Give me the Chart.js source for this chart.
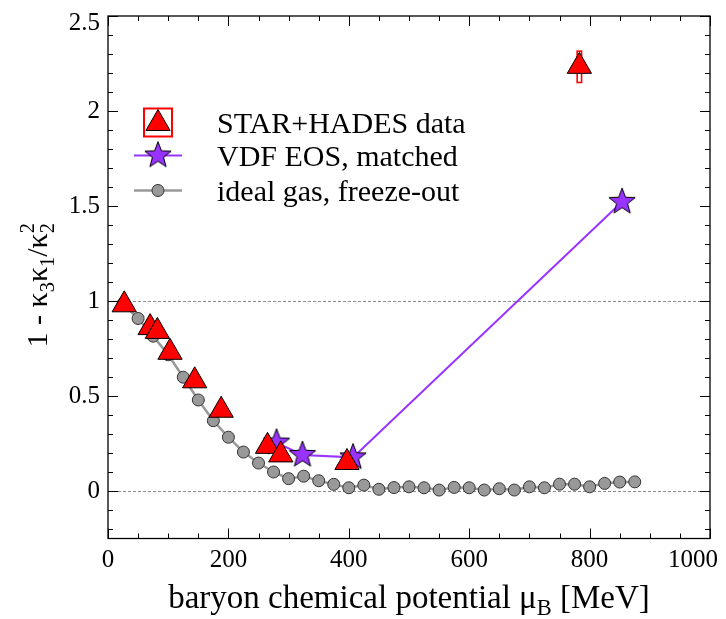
<!DOCTYPE html>
<html>
<head>
<meta charset="utf-8">
<script src="https://cdn.jsdelivr.net/npm/chart.js@4.4.1/dist/chart.umd.min.js"></script>
<style>
  html, body { margin: 0; padding: 0; background: #fff; }
</style>
</head>
<body>
<canvas id="c" width="726" height="619"></canvas>
<script>
// measured fluctuation ratio vs. baryon chemical potential
const dataMuB   = [27, 70, 82, 103, 144, 188, 265, 287, 397, 783];
const dataRatio = [0.98, 0.86, 0.84, 0.73, 0.58, 0.425, 0.235, 0.19, 0.15, 2.235];
const dataSysLo = [null, null, null, null, null, null, null, null, null, 2.15];
const dataSysHi = [null, null, null, null, null, null, null, null, null, 2.315];

// VDF equation of state, matched points
const vdfMuB   = [280, 323, 407, 854];
const vdfRatio = [0.255, 0.19, 0.177, 1.522];

// ideal gas along the freeze-out curve
const idealMuB = [25, 50, 75, 100, 125, 150, 175, 200, 225, 250, 275, 300, 325, 350, 375, 400,
  425, 450, 475, 500, 525, 550, 575, 600, 625, 650, 675, 700, 725, 750, 775, 800, 825, 850, 875];
const idealRatio = [0.985, 0.908, 0.815, 0.717, 0.599, 0.479, 0.370, 0.283, 0.205, 0.147, 0.100, 0.065,
  0.078, 0.054, 0.035, 0.017, 0.031, 0.009, 0.018, 0.022, 0.017, 0.005, 0.019, 0.017, 0.005, 0.012,
  0.005, 0.022, 0.017, 0.036, 0.036, 0.022, 0.040, 0.047, 0.048];

const xTicks = [0, 200, 400, 600, 800, 1000];
const yTicks = [0, 0.5, 1, 1.5, 2, 2.5];
const refLines = [0, 1];

const labels = ['STAR+HADES data', 'VDF EOS, matched', 'ideal gas, freeze-out'];

const SERIF = '"Liberation Serif", "Times New Roman", serif';
const RED = '#ff0000';
const PURPLE = '#9933ff';
const GREY = '#999999';

function makeStar(R, fill) {
  const size = Math.ceil(2 * R + 4);
  const cv = document.createElement('canvas');
  cv.width = size; cv.height = size;
  const g = cv.getContext('2d');
  const cx = size / 2, cy = size / 2;
  g.beginPath();
  for (let i = 0; i < 10; i++) {
    const r = i % 2 ? R * 0.42 : R;
    const a = -Math.PI / 2 + i * Math.PI / 5;
    g.lineTo(cx + r * Math.cos(a), cy + r * Math.sin(a));
  }
  g.closePath();
  g.fillStyle = fill;
  g.fill();
  g.lineWidth = 1;
  g.strokeStyle = '#000';
  g.stroke();
  return cv;
}
const starImg = makeStar(13.8, PURPLE);

const pts = (xs, ys) => xs.map((x, i) => ({ x: x, y: ys[i] }));

// rich text: plain runs plus sub/superscripts
function richParts(ctx, parts, size) {
  let w = 0;
  parts.forEach(p => {
    if (p.t) { ctx.font = size + 'px ' + SERIF; p.w = ctx.measureText(p.t).width; }
    else {
      ctx.font = (size * 0.68) + 'px ' + SERIF;
      p.w = Math.max(p.sub ? ctx.measureText(p.sub).width : 0, p.sup ? ctx.measureText(p.sup).width : 0);
    }
    w += p.w;
  });
  return w;
}
function drawRich(ctx, parts, cx, y, size) {
  let x = cx - richParts(ctx, parts, size) / 2;
  ctx.textAlign = 'left';
  ctx.textBaseline = 'alphabetic';
  parts.forEach(p => {
    if (p.t) {
      ctx.font = size + 'px ' + SERIF;
      ctx.fillText(p.t, x, y);
    } else {
      ctx.font = (size * 0.68) + 'px ' + SERIF;
      if (p.sub) ctx.fillText(p.sub, x, y + size * 0.22);
      if (p.sup) ctx.fillText(p.sup, x, y - size * 0.42);
    }
    x += p.w;
  });
}

const decorations = {
  id: 'decorations',
  beforeDatasetsDraw(chart) {
    const { ctx, chartArea: a, scales: { x, y } } = chart;
    ctx.save();
    // dashed reference lines
    ctx.strokeStyle = '#8c8c8c';
    ctx.lineWidth = 1;
    ctx.setLineDash([3, 2]);
    refLines.forEach(v => {
      const py = Math.round(y.getPixelForValue(v)) + 0.5;
      ctx.beginPath(); ctx.moveTo(a.left, py); ctx.lineTo(a.right, py); ctx.stroke();
    });
    ctx.setLineDash([]);
    // systematic error boxes
    ctx.strokeStyle = RED;
    ctx.lineWidth = 1.6;
    ctx.fillStyle = '#fff';
    dataMuB.forEach((m, i) => {
      if (dataSysLo[i] == null) return;
      const px = x.getPixelForValue(m);
      const top = y.getPixelForValue(dataSysHi[i]);
      const bot = y.getPixelForValue(dataSysLo[i]);
      ctx.fillRect(px - 2.2, top, 4.4, bot - top);
      ctx.strokeRect(px - 2.2, top, 4.4, bot - top);
    });
    ctx.restore();
  },
  afterDraw(chart) {
    const { ctx, chartArea: a, scales: { x, y }, width: W } = chart;
    ctx.save();
    // frame
    ctx.strokeStyle = '#000';
    ctx.lineWidth = 1.3;
    ctx.strokeRect(a.left, a.top, a.right - a.left, a.bottom - a.top);
    // inward ticks on all four sides
    ctx.lineWidth = 1;
    for (let v = 0; v <= 1000; v += 50) {
      const px = Math.round(x.getPixelForValue(v)) + 0.5;
      const len = v % 200 === 0 ? 10 : 5;
      ctx.beginPath();
      ctx.moveTo(px, a.bottom); ctx.lineTo(px, a.bottom - len);
      ctx.moveTo(px, a.top); ctx.lineTo(px, a.top + len);
      ctx.stroke();
    }
    for (let k = -2; k <= 25; k++) {
      const py = Math.round(y.getPixelForValue(k / 10)) + 0.5;
      const len = k % 5 === 0 ? 10 : 5;
      ctx.beginPath();
      ctx.moveTo(a.left, py); ctx.lineTo(a.left + len, py);
      ctx.moveTo(a.right, py); ctx.lineTo(a.right - len, py);
      ctx.stroke();
    }

    // tick labels, kept inside the canvas at the edges
    ctx.fillStyle = '#000';
    ctx.font = '25px ' + SERIF;
    ctx.textBaseline = 'middle';
    ctx.textAlign = 'center';
    xTicks.forEach(v => {
      const s = String(v);
      const w = ctx.measureText(s).width;
      const px = Math.min(x.getPixelForValue(v), W - 8 - w / 2);
      ctx.fillText(s, px, a.bottom + 22);
    });
    ctx.textAlign = 'right';
    yTicks.forEach(v => {
      const py = Math.max(y.getPixelForValue(v), a.top + 7);
      ctx.fillText(String(v), a.left - 8, py);
    });

    // axis titles
    drawRich(ctx, [{ t: 'baryon chemical potential μ' }, { sub: 'B' }, { t: ' [MeV]' }],
      (a.left + a.right) / 2, 608, 33);
    ctx.save();
    ctx.translate(47, (a.top + a.bottom) / 2 + 8);
    ctx.rotate(-Math.PI / 2);
    drawRich(ctx, [{ t: '1 - κ' }, { sub: '3' }, { t: 'κ' }, { sub: '1' }, { t: '/κ' }, { sub: '2', sup: '2' }],
      0, 0, 30);
    ctx.restore();

    // legend
    const sx = a.left + 50, tx = a.left + 109;
    const rows = [a.top + 106.5, a.top + 139.5, a.top + 174.5];
    // data: boxed triangle
    ctx.strokeStyle = RED; ctx.lineWidth = 2;
    ctx.strokeRect(sx - 14, rows[0] - 14, 28, 28);
    ctx.fillStyle = RED; ctx.strokeStyle = '#000'; ctx.lineWidth = 1;
    ctx.beginPath();
    for (let i = 0; i < 3; i++) {
      const r = -Math.PI / 2 + i * 2 * Math.PI / 3;
      ctx.lineTo(sx + 14 * Math.cos(r), rows[0] + 1 + 14 * Math.sin(r));
    }
    ctx.closePath(); ctx.fill(); ctx.stroke();
    // VDF: line + star
    ctx.strokeStyle = PURPLE; ctx.lineWidth = 2;
    ctx.beginPath(); ctx.moveTo(sx - 24, rows[1]); ctx.lineTo(sx + 24, rows[1]); ctx.stroke();
    ctx.drawImage(starImg, sx - starImg.width / 2, rows[1] - starImg.height / 2);
    // ideal gas: line + circle
    ctx.strokeStyle = GREY; ctx.lineWidth = 2.5;
    ctx.beginPath(); ctx.moveTo(sx - 24, rows[2]); ctx.lineTo(sx + 24, rows[2]); ctx.stroke();
    ctx.beginPath(); ctx.arc(sx, rows[2], 6, 0, Math.PI * 2);
    ctx.fillStyle = GREY; ctx.fill(); ctx.strokeStyle = '#333'; ctx.lineWidth = 1; ctx.stroke();

    ctx.fillStyle = '#000';
    ctx.font = '30px ' + SERIF;
    ctx.textAlign = 'left';
    ctx.textBaseline = 'alphabetic';
    labels.forEach((l, i) => ctx.fillText(l, tx, rows[i] + 10.5));
    ctx.restore();
  }
};

new Chart(document.getElementById('c'), {
  type: 'scatter',
  data: {
    datasets: [
      {
        label: labels[0],
        data: pts(dataMuB, dataRatio),
        showLine: false,
        pointStyle: 'triangle',
        pointRadius: 14,
        pointBackgroundColor: RED,
        pointBorderColor: '#000',
        pointBorderWidth: 1
      },
      {
        label: labels[1],
        data: pts(vdfMuB, vdfRatio),
        showLine: true,
        borderColor: PURPLE,
        borderWidth: 2,
        pointStyle: starImg,
        pointRadius: 14
      },
      {
        label: labels[2],
        data: pts(idealMuB, idealRatio),
        showLine: true,
        borderColor: GREY,
        borderWidth: 2.5,
        pointStyle: 'circle',
        pointRadius: 6,
        pointBackgroundColor: GREY,
        pointBorderColor: '#333',
        pointBorderWidth: 1
      }
    ]
  },
  options: {
    responsive: false,
    animation: false,
    layout: { padding: { top: 11.5, right: 11, left: 0, bottom: 0 } },
    plugins: { legend: { display: false }, tooltip: { enabled: false } },
    scales: {
      x: {
        type: 'linear', min: 0, max: 1000,
        afterBuildTicks: s => { s.ticks = xTicks.map(v => ({ value: v })); },
        afterFit: s => { s.height = 80.5; s.paddingLeft = 0; s.paddingRight = 0; },
        grid: { display: false, drawTicks: false },
        border: { display: false },
        ticks: { display: false }
      },
      y: {
        type: 'linear', min: -0.25, max: 2.5,
        afterBuildTicks: s => { s.ticks = yTicks.map(v => ({ value: v })); },
        afterFit: s => { s.width = 108; s.paddingTop = 0; s.paddingBottom = 0; },
        grid: { display: false, drawTicks: false },
        border: { display: false },
        ticks: { display: false }
      }
    }
  },
  plugins: [decorations]
});
</script>
</body>
</html>
